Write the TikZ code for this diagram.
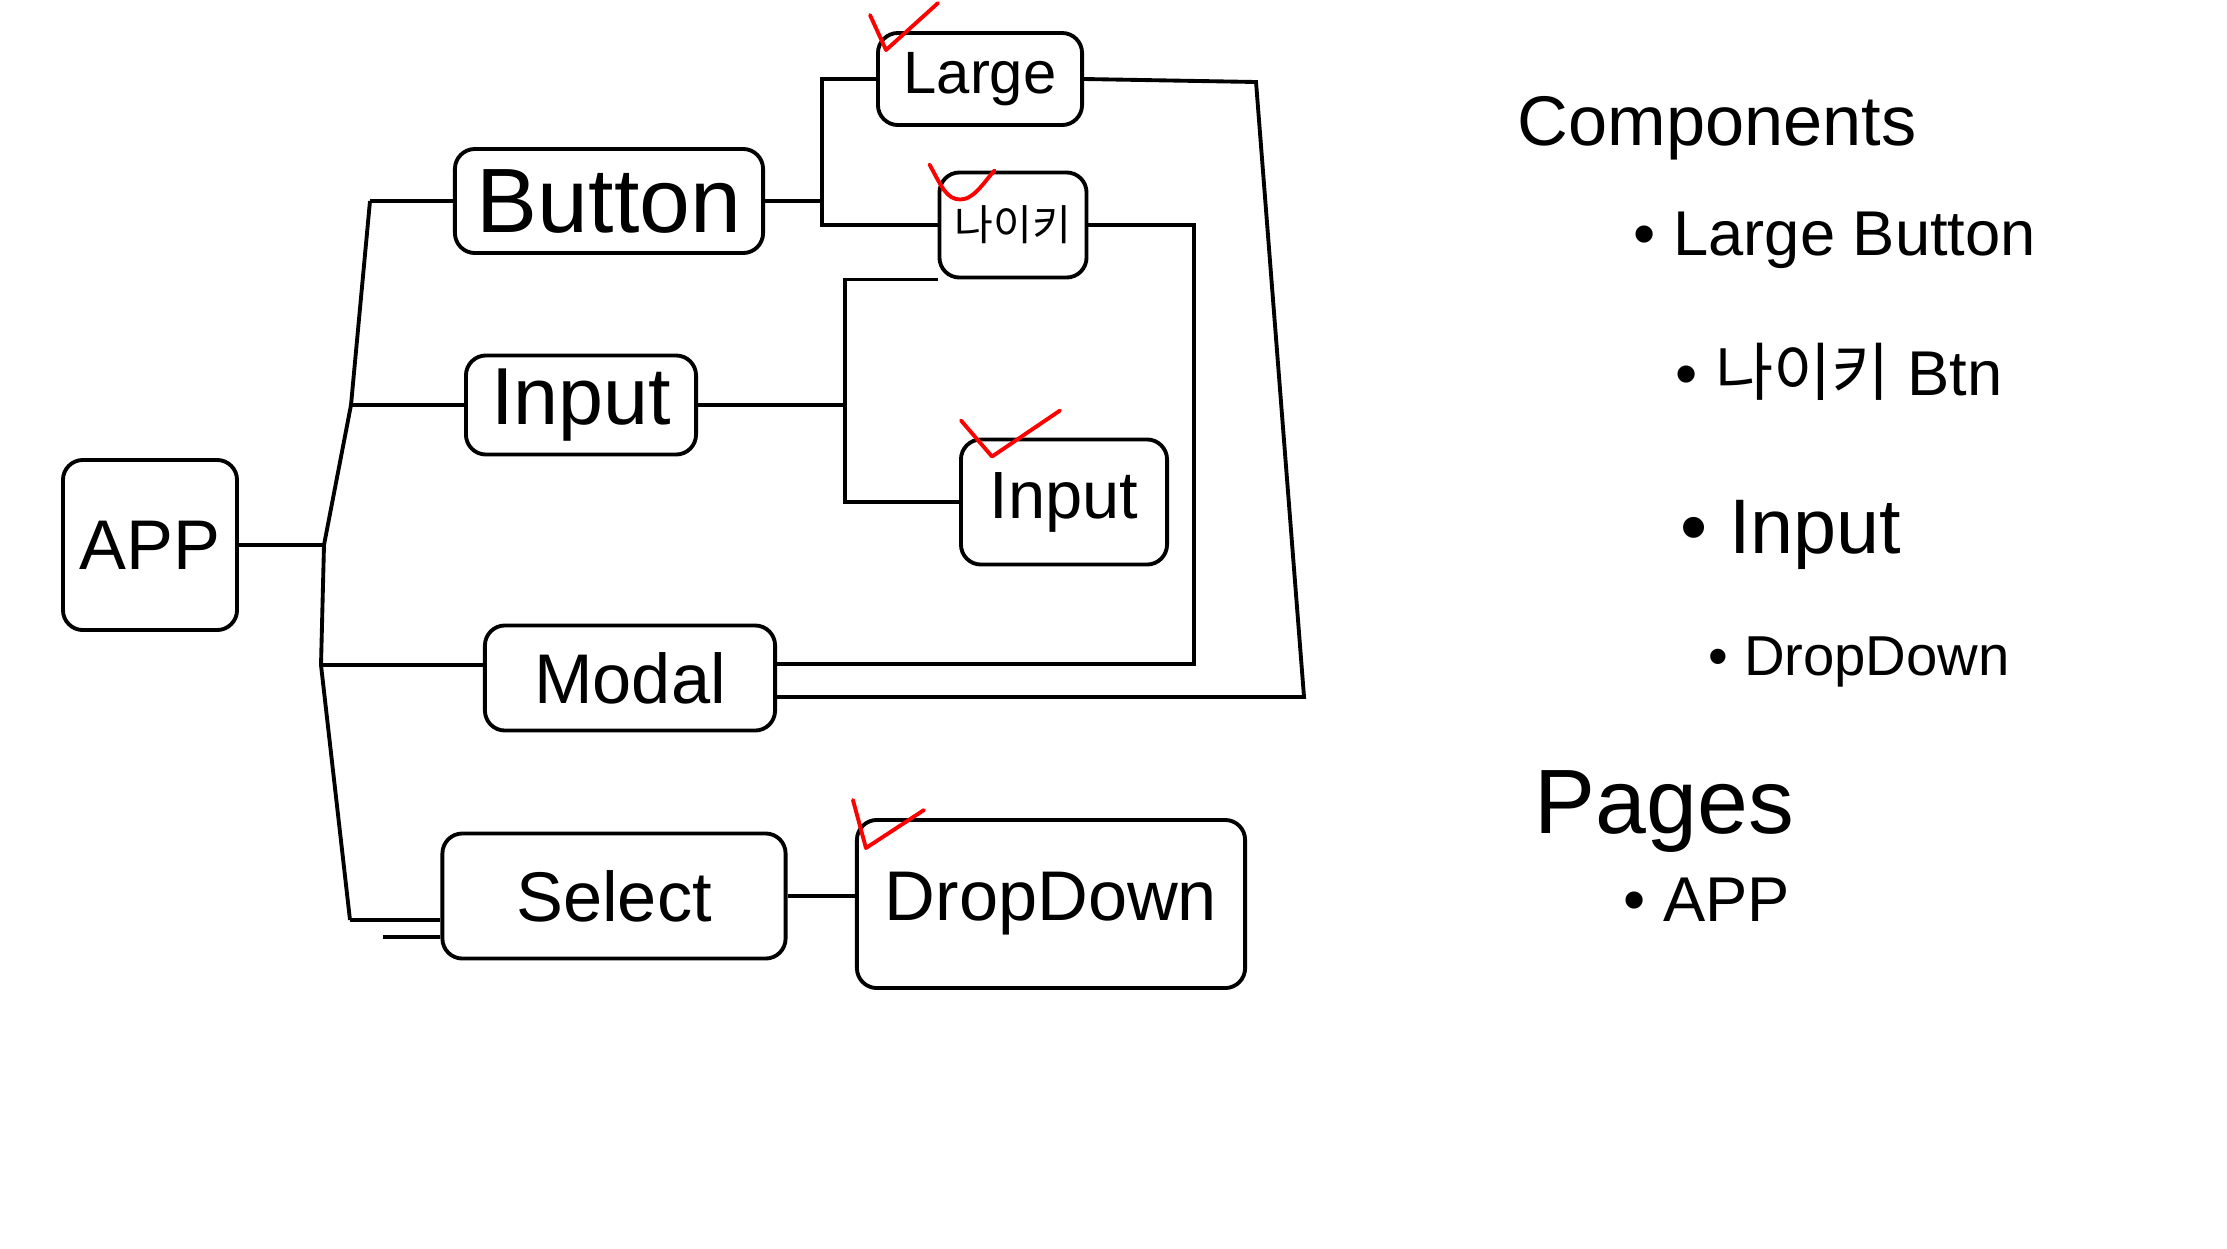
\documentclass[tikz,border=0pt]{standalone}
\usepackage{fontspec}
\setmainfont{Liberation Sans}
\newfontfamily\kofont{Noto Sans CJK KR}
\usetikzlibrary{calc}
\newcommand{\fsz}[1]{\fontsize{#1}{#1}\selectfont}
\tikzset{
  % boxes
  blk/.style={draw,rectangle,rounded corners=2mm,line width=1.1pt,inner sep=0pt,align=center},
  % connectors
  wire/.style={line width=1.1pt},
  okmark/.style={draw=red,line width=1.1pt,line cap=round,line join=round},
  % notes on the right
  note/.style={anchor=west,inner sep=0pt},
}
\begin{document}
\begin{tikzpicture}[x=0.01cm,y=-0.01cm]
  \useasboundingbox (0,0) rectangle (2227,1248);
  % components
  \node[blk,minimum width=1.74cm,minimum height=1.70cm,font={\fsz{20}}] (app) at (150,545) {APP};
  \node[blk,minimum width=3.08cm,minimum height=1.04cm,font={\fsz{26}}] (button) at (609,201) {Button};
  \node[blk,minimum width=2.30cm,minimum height=0.99cm,font={\fsz{23}}] (inputA) at (581,405) {Input};
  \node[blk,minimum width=2.90cm,minimum height=1.05cm,font={\fsz{20}}] (modal) at (630,678) {Modal};
  \node[blk,minimum width=3.43cm,minimum height=1.25cm,font={\fsz{20}}] (select) at (614,896) {Select};
  \node[blk,minimum width=3.88cm,minimum height=1.68cm,font={\fsz{20}}] (dropdown) at (1051,904) {DropDown};
  \node[blk,minimum width=2.04cm,minimum height=0.92cm,font={\fsz{17}}] (large) at (980,79) {Large};
  \node[blk,minimum width=1.47cm,minimum height=1.05cm,font={\kofont\fsz{12}}] (nike) at (1013,225) {나이키};
  \node[blk,minimum width=2.06cm,minimum height=1.25cm,font={\fsz{19}}] (inputB) at (1064,502) {Input};
  % bus from App
  \coordinate (bustop) at (370,201);
  \coordinate (busin) at (351,405);
  \coordinate (busapp) at (324,545);
  \coordinate (busmod) at (321,665);
  \coordinate (busbot) at (350,920);
  \coordinate (selin) at (383,937);
  \draw[wire] (bustop) -- (busin) -- (busapp) -- (busmod) -- (busbot);
  \draw[wire] (app.east) -- (busapp);
  \draw[wire] (bustop) -- (button.west);
  \draw[wire] (busin) -- (inputA.west);
  \draw[wire] (busmod) -- (modal.west |- busmod);
  \draw[wire] (busbot) -- (select.west |- busbot);
  \draw[wire] (selin) -- (select.west |- selin);
  % forks
  \coordinate (bfork) at (822,201);
  \coordinate (ifork) at (845,405);
  \coordinate (modalup) at ($(modal.east)+(0,-14)$);
  \coordinate (modaldn) at ($(modal.east)+(0,19)$);
  \draw[wire] (button.east) -- (bfork);
  \draw[wire] (large.west) -| (bfork) |- (nike.west);
  \draw[wire] (inputA.east) -- (ifork);
  \draw[wire] (nike.south west) -| (ifork) |- (inputB.west);
  \draw[wire] (modalup) -- ++(417,0) |- (nike.east);
  \draw[wire] (modaldn) -- ++(527,0) -- ++(-48,-615) -- (large.east);
  \draw[wire] (select.east) -- (select.east -| dropdown.west);
  % red ticks
  \draw[okmark] ($(large.north west)+(-6,-16)$) -- ++(16,35) -- ++(52,-47);
  \draw[okmark] ($(nike.north west)+(-8,-6)$) .. controls +(12,22) and +(-14,0) .. ++(31,35) .. controls +(14,0) and +(-8,8) .. ++(34,-29);
  \draw[okmark] ($(inputB.north west)+(2,-17)$) -- ++(31,36) -- ++(68,-46);
  \draw[okmark] ($(dropdown.north west)+(-2,-18)$) -- ++(13,48) -- ++(58,-38);
  % notes
  \node[note,font={\fsz{20}}] (comps) at (1517,128) {Components};
  \node[note,font={\fsz{18}}] (itlarge) at (1633,240) {• Large Button};
  \node[note,font={\fsz{18}}] (itnike) at (1675,372) {• {\kofont 나이키} Btn};
  \node[note,font={\fsz{22}}] (itinput) at (1680,535) {• Input};
  \node[note,font={\fsz{16}}] (itdrop) at (1708,662) {• DropDown};
  \node[note,font={\fsz{26}}] (pages) at (1534,812) {Pages};
  \node[note,font={\fsz{18}}] (itapp) at (1623,900) {• APP};
\end{tikzpicture}
\end{document}
